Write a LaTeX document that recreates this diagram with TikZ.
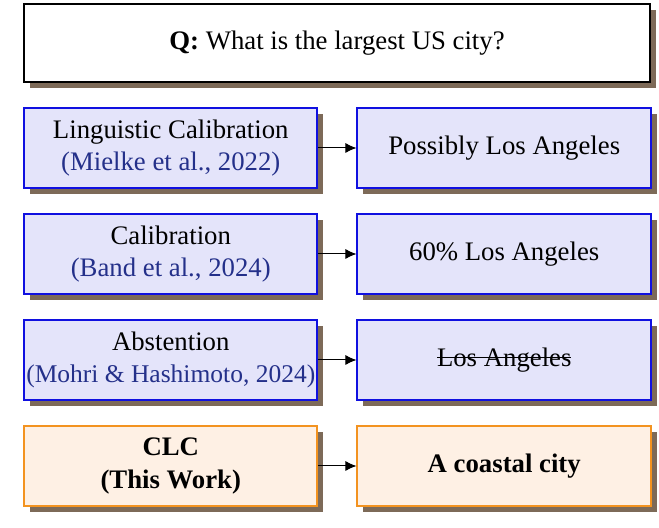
\documentclass[tikz,border=0pt]{standalone}
\usepackage{fontspec}
\setmainfont{Liberation Serif}
\usetikzlibrary{arrows.meta,positioning,shadows}
\definecolor{shade}{HTML}{7D6A58}
\definecolor{citeblue}{HTML}{24308A}
\definecolor{boxblue}{HTML}{1010E0}
\definecolor{lavender}{HTML}{E4E4FA}
\definecolor{boxorange}{HTML}{F39320}
\definecolor{peach}{HTML}{FEF0E4}
\newcommand\crossout[1]{\setbox0\hbox{#1}\rlap{\rule[0.3em]{\wd0}{0.45pt}}\box0}

\begin{document}
\begin{tikzpicture}[node distance=9.6pt and 15.2pt,
    every node/.style={font=\fontsize{10.7}{13}\selectfont},
    card/.style={minimum width=117.4pt,minimum height=32pt,align=center,
      line width=0.8pt,inner xsep=0pt,inner ysep=2pt,
      drop shadow={shadow xshift=2.4pt,shadow yshift=-2.4pt,fill=shade,opacity=1}},
    method/.style={card,draw=boxblue,fill=lavender},
    ours/.style={card,draw=boxorange,fill=peach},
    link/.style={-{Latex[length=4.4pt,width=4pt]},thin}]
      \useasboundingbox (0,0) rectangle (263.6pt,-211.2pt);
      \node[card,draw=black,fill=white,minimum width=250.4pt,minimum height=31.2pt]
        (q) at (134.8pt,-17.2pt) {\textbf{Q:} What is the largest US city?};
      \node[method,below=of q.south west,anchor=north west] (ling)
        {Linguistic Calibration\\\textcolor{citeblue}{(Mielke et al., 2022)}};
      \node[method,right=of ling] (lingout) {Possibly Los Angeles};
      \node[method,below=of ling] (cal)
        {Calibration\\\textcolor{citeblue}{(Band et al., 2024)}};
      \node[method,right=of cal] (calout) {60\% Los Angeles};
      \node[method,below=of cal] (abs)
        {Abstention\\\textcolor{citeblue}{\fontsize{10.2}{13}\selectfont(Mohri \& Hashimoto, 2024)}};
      \node[method,right=of abs] (absout) {\crossout{Los Angeles}};
      \node[ours,below=of abs] (clc) {\textbf{CLC}\\\textbf{(This Work)}};
      \node[ours,right=of clc] (clcout) {\textbf{A coastal city}};
      \draw[link] (ling)--(lingout);
      \draw[link] (cal)--(calout);
      \draw[link] (abs)--(absout);
      \draw[link] (clc)--(clcout);
    \end{tikzpicture}
\end{document}
